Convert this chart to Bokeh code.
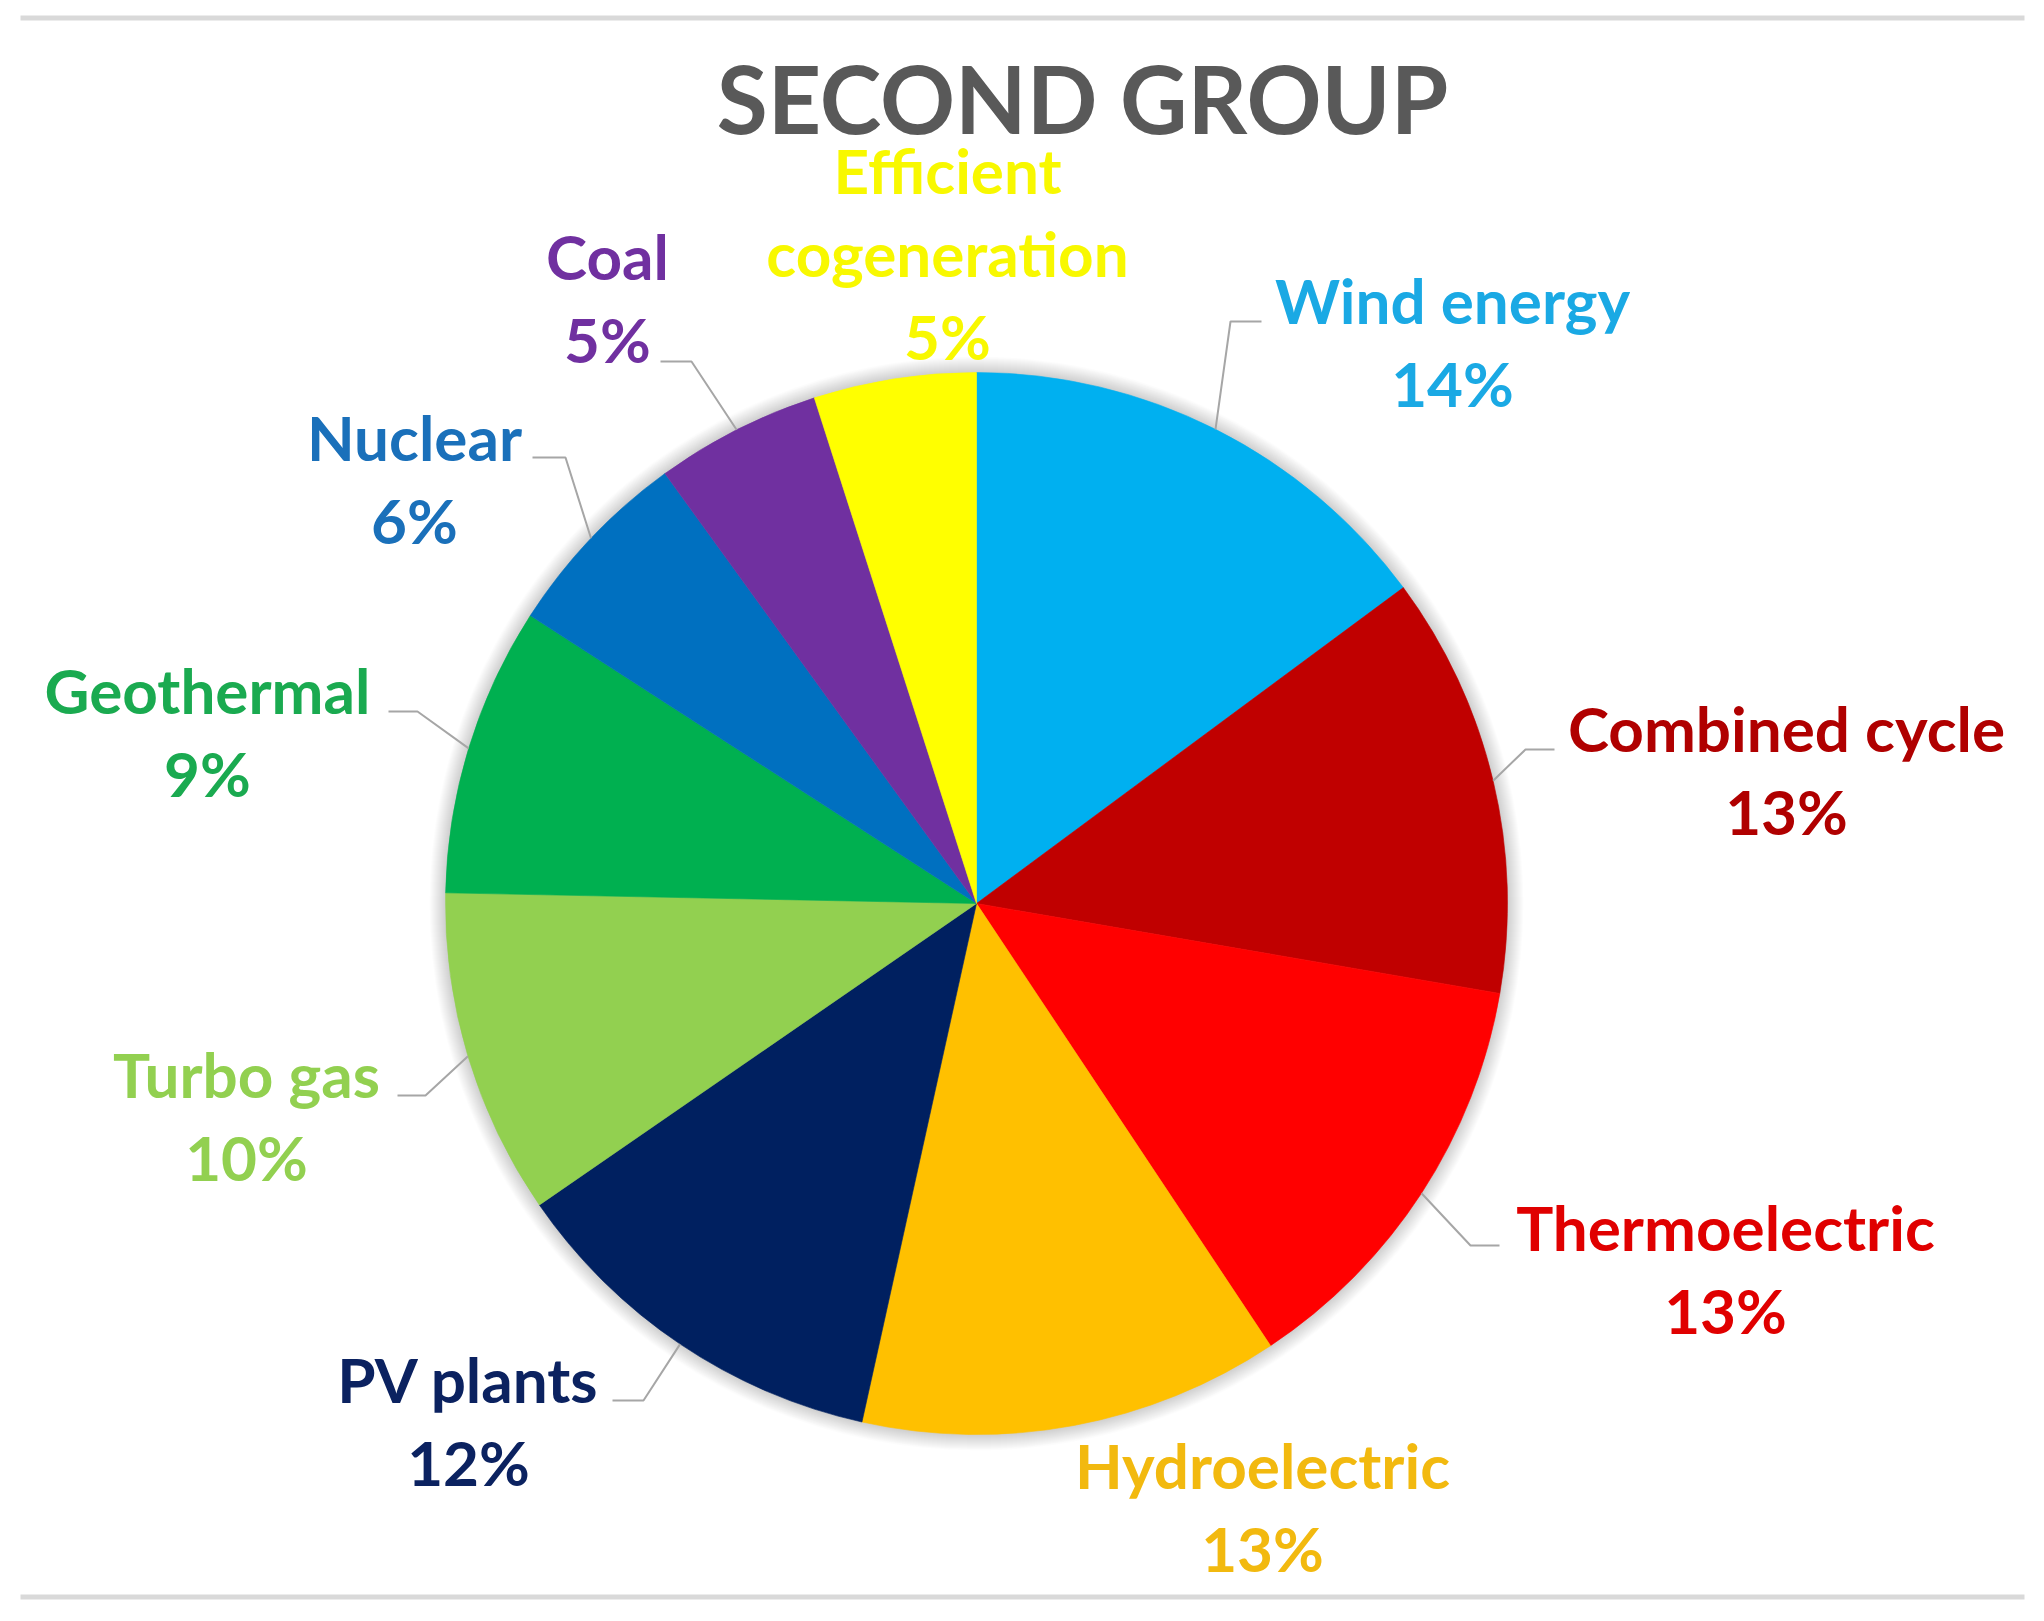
import math
from bokeh.plotting import figure
from bokeh.models import Range1d, ColumnDataSource
from bokeh.core.properties import value
from bokeh.embed import file_html
from bokeh.resources import INLINE

# ---------------- data ----------------
title_text = "SECOND GROUP"
categories = ["Wind energy", "Combined cycle", "Thermoelectric", "Hydroelectric",
              "PV plants", "Turbo gas", "Geothermal", "Nuclear", "Coal",
              "Efficient cogeneration"]
shares = [14.86, 12.85, 12.95, 12.80, 11.93, 9.93, 8.80, 5.90, 5.04, 4.94]
pct_labels = ["14%", "13%", "13%", "13%", "12%", "10%", "9%", "6%", "5%", "5%"]
name_lines = [["Wind energy"], ["Combined cycle"], ["Thermoelectric"], ["Hydroelectric"],
              ["PV plants"], ["Turbo gas"], ["Geothermal"], ["Nuclear"], ["Coal"],
              ["Efficient", "cogeneration"]]

# ---------------- styles ----------------
slice_colors = ["#00B0F0", "#C00000", "#FF0000", "#FFC000", "#002060",
                "#92D050", "#00B050", "#0070C0", "#7030A0", "#FFFF00"]
label_colors = ["#1AA9E4", "#B00000", "#E00000", "#F2B90F", "#0B2260",
                "#92D050", "#1AAA50", "#1A70BA", "#7030A0", "#F8F800"]

# ---------------- layout (page pixels) ----------------
W, H = 2028, 1605
CX, CY, R = 976, 903, 531
LINE_STEP = 83
FONT = "Lato"
LABEL_FS = 62
TITLE_FS = 93
BASE_SHIFT = 0.37   # compensation so that the glyph baseline lands on the given y
# label centre x and first-line baseline y
label_pos = [(1452, 322), (1786, 750), (1725, 1249), (1262, 1487), (468, 1401),
             (246, 1096), (207, 712), (414, 459), (607, 278), (947, 192)]
# leader elbow and end points (None = no leader)
leaders = [((1230, 321), (1261, 321)), ((1525, 749), (1554, 749)),
           ((1470, 1245), (1499, 1245)), None, ((643, 1400), (612, 1400)),
           ((425, 1095), (397, 1095)), ((417, 711), (388, 711)),
           ((565, 457), (532, 457)), ((691, 361), (660, 361)), None]


def Y(py):
    return H - py


p = figure(width=W, height=H, output_backend="svg", toolbar_location=None,
           x_range=Range1d(0, W), y_range=Range1d(0, H),
           min_border=0, outline_line_color=None, background_fill_color="white",
           border_fill_color="white")
p.axis.visible = False
p.grid.visible = False

# rules
for yy in (17.5, 1596.5):
    p.segment(x0=[20], y0=[Y(yy)], x1=[2024], y1=[Y(yy)], line_color="#D9D9D9", line_width=5)

# soft shadow
for k in range(1, 17):
    p.circle(x=[CX], y=[Y(CY)], radius=R + k, fill_color="#000000", fill_alpha=0.011,
             line_color=None)

# slices
total = float(sum(shares))
starts, ends, mids = [], [], []
cum = 0.0
for s in shares:
    a0 = cum / total
    cum += s
    a1 = cum / total
    starts.append(math.pi / 2 - 2 * math.pi * a1)
    ends.append(math.pi / 2 - 2 * math.pi * a0)
    mids.append(2 * math.pi * (a0 + a1) / 2)

src = ColumnDataSource(dict(cat=categories, share=shares, start=starts, end=ends,
                            color=slice_colors))
p.wedge(x=CX, y=Y(CY), radius=R, start_angle="start", end_angle="end",
        direction="anticlock", fill_color="color", line_color="color", line_width=0.6,
        source=src)

# leaders
for i, ld in enumerate(leaders):
    if ld is None:
        continue
    ex = CX + R * math.sin(mids[i])
    ey = CY - R * math.cos(mids[i])
    (bx, by), (tx, ty) = ld
    p.line(x=[ex, bx, tx], y=[Y(ey), Y(by), Y(ty)], line_color="#A6A6A6", line_width=2)

# labels
for i, (lx, ly) in enumerate(label_pos):
    lines = name_lines[i] + [pct_labels[i]]
    for j, t in enumerate(lines):
        yb = ly + j * LINE_STEP - BASE_SHIFT * LABEL_FS
        p.text(x=[lx], y=[Y(yb)], text=[t], text_align="center",
               text_baseline="alphabetic", text_font=value(FONT), text_font_style="bold",
               text_font_size=value(f"{LABEL_FS}px"), text_color=label_colors[i])

# title
p.text(x=[1082], y=[Y(132 - BASE_SHIFT * TITLE_FS)], text=[title_text], text_align="center",
       text_baseline="alphabetic", text_font=value(FONT), text_font_style="bold",
       text_font_size=value(f"{TITLE_FS}px"), text_color="#595959")

open("out.html", "w").write(file_html(p, INLINE))
